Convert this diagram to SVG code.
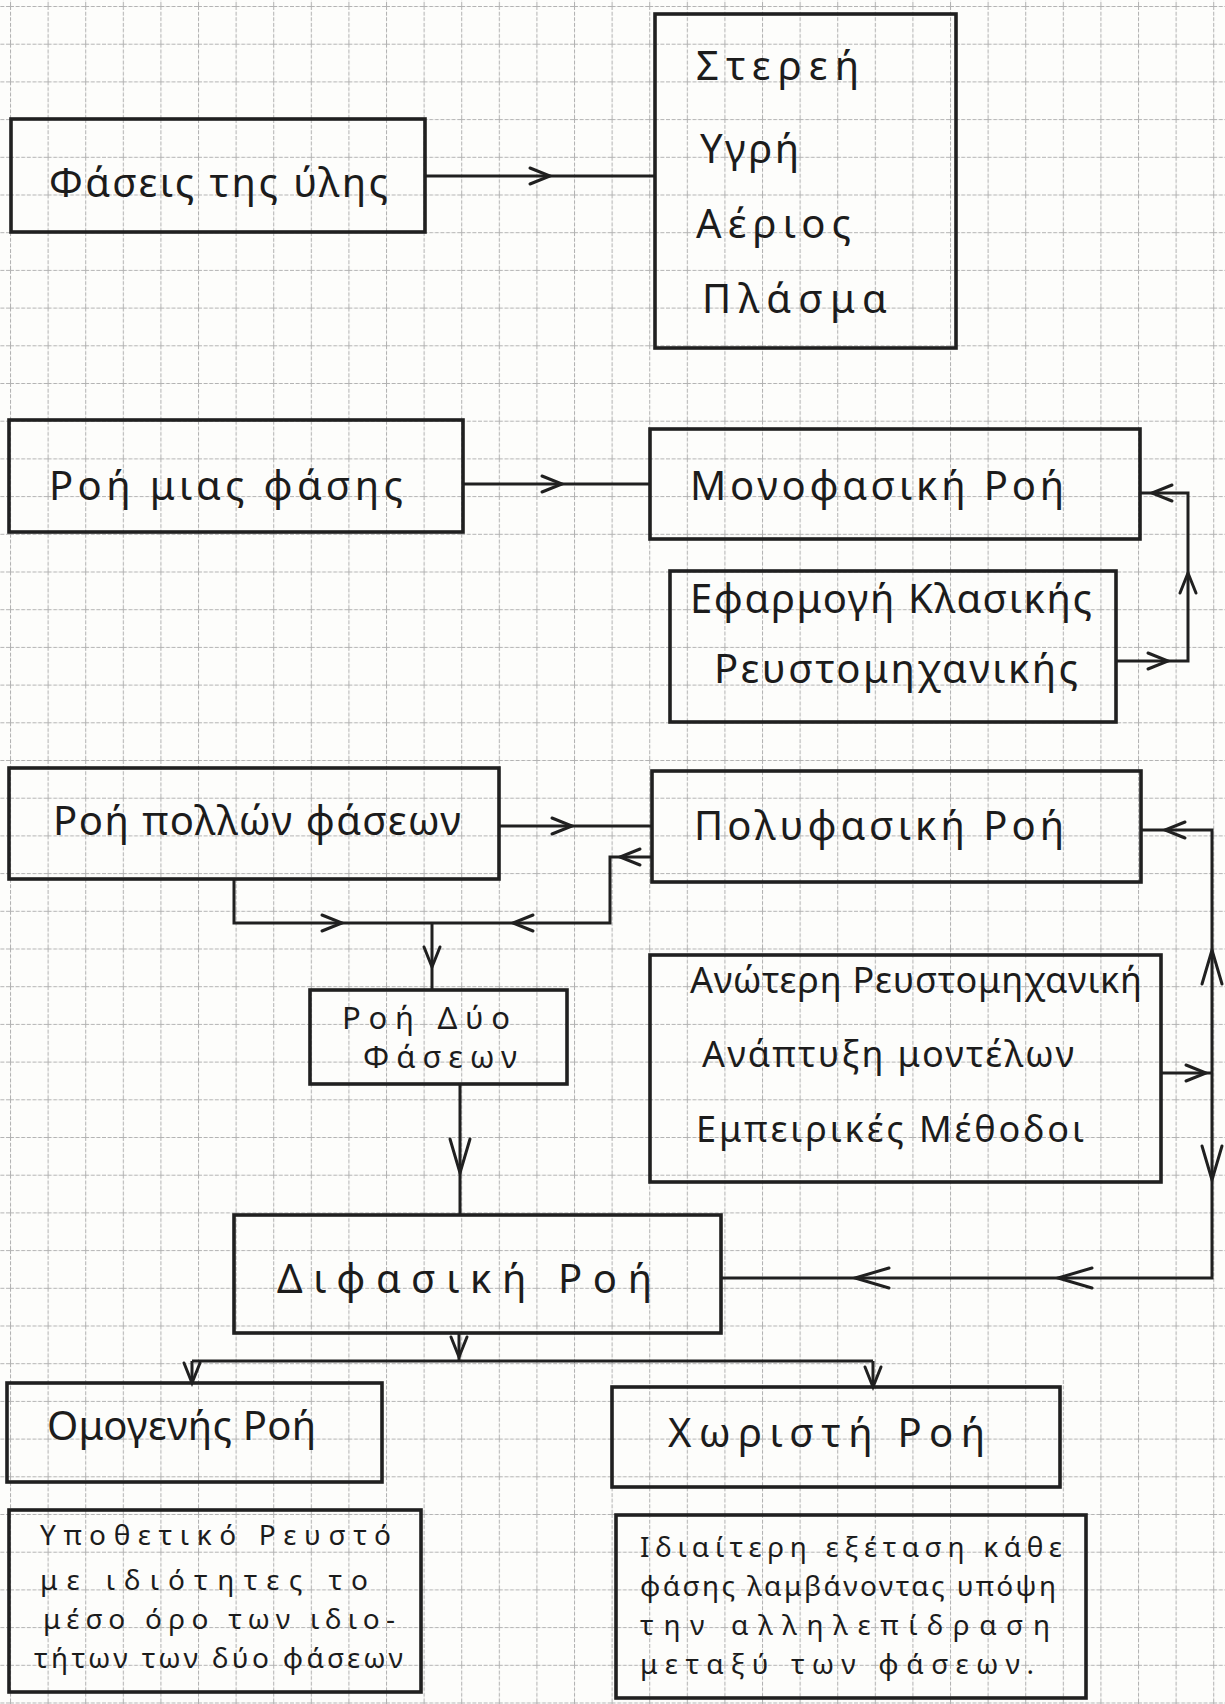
<svg xmlns="http://www.w3.org/2000/svg" xmlns:xlink="http://www.w3.org/1999/xlink" width="1225" height="1704" viewBox="0 0 1225 1704">
<style>
.box{fill:none;stroke:#202020;stroke-width:3.6;stroke-linecap:square}
.con{fill:none;stroke:#202020;stroke-width:3;stroke-linejoin:miter}
.ah{fill:none;stroke:#202020;stroke-width:3;stroke-linecap:round;stroke-linejoin:miter}
.t{font-family:"Noto Sans","DejaVu Sans",sans-serif;fill:#1c1c1c;font-size:40px}
.m{font-size:36px}
.s{font-size:31px}
.xs{font-size:28px}
</style>
<defs>
<pattern id="grid" patternUnits="userSpaceOnUse" x="10" y="6" width="37.6" height="37.7">
<path d="M0,0.5 H37.6 M0.5,0 V37.7" fill="none" stroke="#b3b3b3" stroke-width="1.1" stroke-dasharray="4 1.6"/>
</pattern>
<path id="ah" class="ah" d="M-20,-8 L0,0 L-20,8"/>
<path id="ahL" class="ah" d="M-34,-10 L0,0 L-34,10"/>
</defs>
<rect width="1225" height="1704" fill="#fdfdfb"/>
<rect width="1225" height="1704" fill="url(#grid)"/>

<g id="connectors">
<path class="con" d="M425,176 H655"/>
<use xlink:href="#ah" transform="translate(550,176)"/>
<path class="con" d="M463,484 H650"/>
<use xlink:href="#ah" transform="translate(562,484)"/>
<path class="con" d="M1116,661 H1188 V493 H1140"/>
<use xlink:href="#ah" transform="translate(1168,661)"/>
<use xlink:href="#ah" transform="translate(1188,573) rotate(-90)"/>
<use xlink:href="#ah" transform="translate(1152,493) rotate(180)"/>
<path class="con" d="M499,826 H652"/>
<use xlink:href="#ah" transform="translate(572,826)"/>
<path class="con" d="M234,879 V923 H610 V857 H652"/>
<use xlink:href="#ah" transform="translate(342,923)"/>
<use xlink:href="#ah" transform="translate(513,923) rotate(180)"/>
<use xlink:href="#ah" transform="translate(620,857) rotate(180)"/>
<path class="con" d="M432,923 V990"/>
<use xlink:href="#ah" transform="translate(432,967) rotate(90)"/>
<path class="con" d="M460,1084 V1215"/>
<use xlink:href="#ahL" transform="translate(460,1173) rotate(90)"/>
<path class="con" d="M1161,1073 H1212"/>
<use xlink:href="#ah" transform="translate(1206,1073)"/>
<path class="con" d="M1141,830 H1212 V1278 H721"/>
<use xlink:href="#ah" transform="translate(1165,830) rotate(180)"/>
<use xlink:href="#ahL" transform="translate(1212,950) rotate(-90)"/>
<use xlink:href="#ahL" transform="translate(1212,1180) rotate(90)"/>
<use xlink:href="#ahL" transform="translate(855,1278) rotate(180)"/>
<use xlink:href="#ahL" transform="translate(1058,1278) rotate(180)"/>
<path class="con" d="M459,1333 V1361 M192,1361 H873 M192,1361 V1383 M873,1361 V1387"/>
<use xlink:href="#ah" transform="translate(459,1357) rotate(90)"/>
<use xlink:href="#ah" transform="translate(192,1383) rotate(90)"/>
<use xlink:href="#ah" transform="translate(873,1387) rotate(90)"/>
</g>

<g id="n1"><rect class="box" x="11" y="119" width="414" height="113"/>
<text class="t" x="49" y="197" textLength="339" lengthAdjust="spacing">Φάσεις της ύλης</text></g>

<g id="n2"><rect class="box" x="655" y="14" width="301" height="334"/>
<text class="t" x="696" y="80" textLength="163" lengthAdjust="spacing">Στερεή</text>
<text class="t" x="700" y="163" textLength="99" lengthAdjust="spacing">Υγρή</text>
<text class="t" x="696" y="238" textLength="155" lengthAdjust="spacing">Αέριος</text>
<text class="t" x="702" y="313" textLength="185" lengthAdjust="spacing">Πλάσμα</text></g>

<g id="n3"><rect class="box" x="9" y="420" width="454" height="112"/>
<text class="t" x="49" y="500" textLength="354" lengthAdjust="spacing">Ροή μιας φάσης</text></g>

<g id="n4"><rect class="box" x="650" y="429" width="490" height="110"/>
<text class="t" x="690" y="500" textLength="374" lengthAdjust="spacing">Μονοφασική Ροή</text></g>

<g id="n5"><rect class="box" x="670" y="571" width="446" height="151"/>
<text class="t" x="690" y="613" textLength="402" lengthAdjust="spacing">Εφαρμογή Κλασικής</text>
<text class="t" x="714" y="683" textLength="364" lengthAdjust="spacing">Ρευστομηχανικής</text></g>

<g id="n6"><rect class="box" x="9" y="768" width="490" height="111"/>
<text class="t" x="53" y="835" textLength="408" lengthAdjust="spacing">Ροή πολλών φάσεων</text></g>

<g id="n7"><rect class="box" x="652" y="771" width="489" height="111"/>
<text class="t" x="694" y="840" textLength="370" lengthAdjust="spacing">Πολυφασική Ροή</text></g>

<g id="n8"><rect class="box" x="310" y="990" width="257" height="94"/>
<text class="t s" x="342" y="1029" textLength="168" lengthAdjust="spacing">Ροή Δύο</text>
<text class="t s" x="363" y="1068" textLength="154" lengthAdjust="spacing">Φάσεων</text></g>

<g id="n9"><rect class="box" x="234" y="1215" width="487" height="118"/>
<text class="t" x="277" y="1293" textLength="375" lengthAdjust="spacing">Διφασική Ροή</text></g>

<g id="n10"><rect class="box" x="650" y="955" width="511" height="227"/>
<text class="t m" x="690" y="993" textLength="452" lengthAdjust="spacing">Ανώτερη Ρευστομηχανική</text>
<text class="t m" x="702" y="1067" textLength="372" lengthAdjust="spacing">Ανάπτυξη μοντέλων</text>
<text class="t m" x="696" y="1142" textLength="388" lengthAdjust="spacing">Εμπειρικές Μέθοδοι</text></g>

<g id="n11"><rect class="box" x="7" y="1383" width="375" height="99"/>
<text class="t" x="47" y="1440" textLength="269" lengthAdjust="spacing">Ομογενής Ροή</text></g>

<g id="n12"><rect class="box" x="9" y="1510" width="412" height="182"/>
<text class="t xs" x="40" y="1545" textLength="351" lengthAdjust="spacing">Υποθετικό Ρευστό</text>
<text class="t xs" x="40" y="1590" textLength="328" lengthAdjust="spacing">με ιδιότητες το</text>
<text class="t xs" x="43" y="1629" textLength="352" lengthAdjust="spacing">μέσο όρο των ιδιο-</text>
<text class="t xs" x="34" y="1668" textLength="369" lengthAdjust="spacing">τήτων των δύο φάσεων</text></g>

<g id="n13"><rect class="box" x="612" y="1387" width="448" height="100"/>
<text class="t" x="668" y="1447" textLength="317" lengthAdjust="spacing">Χωριστή Ροή</text></g>

<g id="n14"><rect class="box" x="616" y="1515" width="470" height="183"/>
<text class="t xs" x="640" y="1557" textLength="422" lengthAdjust="spacing">Ιδιαίτερη εξέταση κάθε</text>
<text class="t xs" x="640" y="1596" textLength="416" lengthAdjust="spacing">φάσης λαμβάνοντας υπόψη</text>
<text class="t xs" x="640" y="1635" textLength="410" lengthAdjust="spacing">την αλληλεπίδραση</text>
<text class="t xs" x="640" y="1674" textLength="394" lengthAdjust="spacing">μεταξύ των φάσεων.</text></g>
</svg>
